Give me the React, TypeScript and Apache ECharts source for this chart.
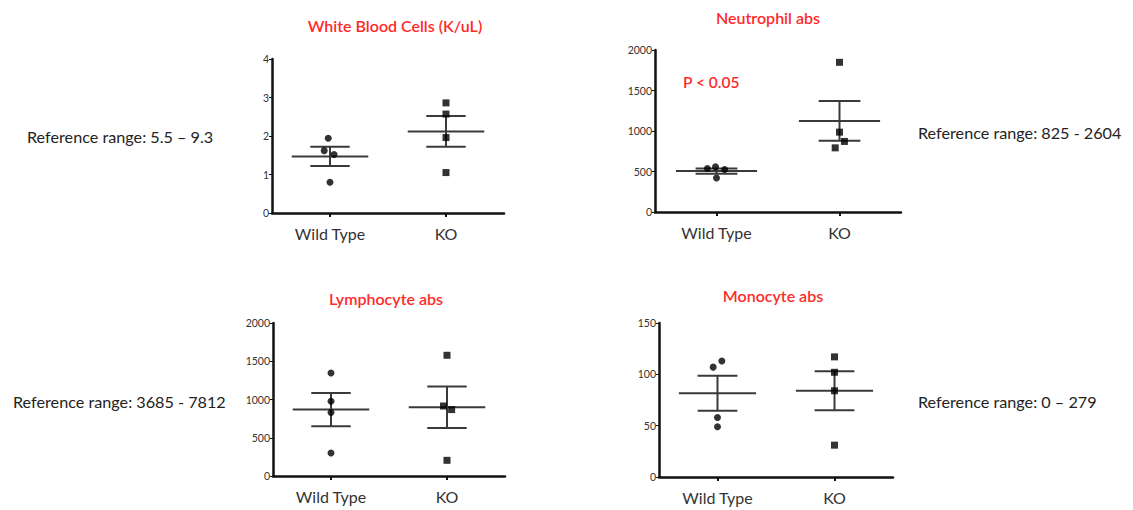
import React, { useEffect, useRef } from "react";
import * as echarts from "echarts";

const groups = ["Wild Type", "KO"];
const groupX = [1, 2];

// White Blood Cells (K/uL)
const wbcWT = [1.94, 1.62, 1.52, 0.8];
const wbcWTOffset = [-0.015, -0.05, 0.035, 0];
const wbcKO = [2.86, 2.57, 1.96, 1.05];
const wbcKOOffset = [0, 0, 0, 0];
const wbcMean = [1.47, 2.12];
const wbcSem = [0.25, 0.4];

// Neutrophil abs
const neuWT = [537, 557, 524, 420];
const neuWTOffset = [-0.074, -0.008, 0.066, 0];
const neuKO = [1848, 986, 871, 792];
const neuKOOffset = [0, 0, 0.04, -0.035];
const neuMean = [505, 1125];
const neuSem = [32, 245];

// Lymphocyte abs
const lymWT = [1346, 976, 829, 301];
const lymWTOffset = [0, 0, 0, 0];
const lymKO = [1578, 915, 868, 205];
const lymKOOffset = [0, -0.03, 0.04, 0];
const lymMean = [868, 898];
const lymSem = [218, 272];

// Monocyte abs
const monWT = [107, 113, 58, 49];
const monWTOffset = [-0.037, 0.037, 0, 0];
const monKO = [117, 102, 84, 31];
const monKOOffset = [0, 0, 0, 0];
const monMean = [81.5, 84];
const monSem = [17, 19];

const titles = ["White Blood Cells (K/uL)", "Neutrophil abs", "Lymphocyte abs", "Monocyte abs"];
const refTexts = [
  "Reference range: 5.5 \u2013 9.3",
  "Reference range: 825 - 2604",
  "Reference range: 3685 - 7812",
  "Reference range: 0 \u2013 279",
];
const yMax = [4, 2000, 2000, 150];
const yInterval = [1, 500, 500, 50];

const panels = [
  { wt: wbcWT, wto: wbcWTOffset, ko: wbcKO, koo: wbcKOOffset, mean: wbcMean, sem: wbcSem },
  { wt: neuWT, wto: neuWTOffset, ko: neuKO, koo: neuKOOffset, mean: neuMean, sem: neuSem },
  { wt: lymWT, wto: lymWTOffset, ko: lymKO, koo: lymKOOffset, mean: lymMean, sem: lymSem },
  { wt: monWT, wto: monWTOffset, ko: monKO, koo: monKOOffset, mean: monMean, sem: monSem },
];

const grids = [
  { left: 272, top: 59, width: 232, height: 154 },
  { left: 655, top: 50, width: 246, height: 162 },
  { left: 273, top: 323, width: 232, height: 153 },
  { left: 659, top: 323, width: 234, height: 154 },
];

const titlePos = [
  [395, 25],
  [768, 17],
  [386, 298],
  [773, 295],
];
const refPos = [
  [27, 136],
  [918, 132],
  [13, 401],
  [918, 401],
];

const FONT = "Lato, 'Open Sans', sans-serif";

export default function App() {
  const ref = useRef<HTMLDivElement>(null);
  useEffect(() => {
    if (!ref.current) return;
    const chart = echarts.init(ref.current, undefined, { renderer: "svg" });

    const xAxis: any[] = [];
    const yAxis: any[] = [];
    const series: any[] = [];

    panels.forEach((p, i) => {
      xAxis.push({
        gridIndex: i,
        type: "value",
        min: 0.5,
        max: 2.5,
        splitLine: { show: false },
        axisLine: { show: true, onZero: false, lineStyle: { color: "#111", width: 2.5 } },
        axisTick: { show: true, customValues: groupX, length: 4, lineStyle: { color: "#111", width: 2 } },
        axisLabel: {
          customValues: groupX,
          formatter: (v: number) => groups[Math.round(v) - 1] || "",
          color: "#333",
          fontSize: 16,
          fontFamily: FONT,
          margin: 12,
        },
      });
      yAxis.push({
        gridIndex: i,
        type: "value",
        min: 0,
        max: yMax[i],
        interval: yInterval[i],
        splitLine: { show: false },
        axisLine: { show: true, lineStyle: { color: "#111", width: 2.5 } },
        axisTick: { show: true, length: 3, lineStyle: { color: "#111", width: 1 } },
        axisLabel: {
          color: "#333",
          fontSize: 10.5,
          fontFamily: FONT,
          margin: 3,
          formatter: (v: number) => String(v),
        },
      });
      series.push({
        type: "scatter",
        xAxisIndex: i,
        yAxisIndex: i,
        symbol: "circle",
        symbolSize: 7,
        itemStyle: { color: "#000" },
        data: p.wt.map((v, k) => [groupX[0] + p.wto[k], v]),
      });
      series.push({
        type: "scatter",
        xAxisIndex: i,
        yAxisIndex: i,
        symbol: "rect",
        symbolSize: 7,
        itemStyle: { color: "#000" },
        data: p.ko.map((v, k) => [groupX[1] + p.koo[k], v]),
      });
      series.push({
        type: "custom",
        xAxisIndex: i,
        yAxisIndex: i,
        data: groupX.map((x, g) => [x, p.mean[g], p.mean[g] - p.sem[g], p.mean[g] + p.sem[g]]),
        renderItem: (params: any, api: any) => {
          const x = api.value(0);
          const m = api.value(1);
          const lo = api.value(2);
          const hi = api.value(3);
          const pm = api.coord([x, m]);
          const plo = api.coord([x, lo]);
          const phi = api.coord([x, hi]);
          const unit = api.size([1, 0])[0];
          const mw = unit * 0.33;
          const cw = unit * 0.17;
          const style = { stroke: "#3a3a3a", lineWidth: 2 };
          return {
            type: "group",
            children: [
              { type: "line", shape: { x1: pm[0] - mw, y1: pm[1], x2: pm[0] + mw, y2: pm[1] }, style },
              { type: "line", shape: { x1: plo[0], y1: plo[1], x2: phi[0], y2: phi[1] }, style },
              { type: "line", shape: { x1: plo[0] - cw, y1: plo[1], x2: plo[0] + cw, y2: plo[1] }, style },
              { type: "line", shape: { x1: phi[0] - cw, y1: phi[1], x2: phi[0] + cw, y2: phi[1] }, style },
            ],
          };
        },
        z: 1,
      });
    });

    const graphic: any[] = [];
    titles.forEach((t, i) => {
      graphic.push({
        type: "text",
        x: titlePos[i][0],
        y: titlePos[i][1],
        style: {
          text: t,
          fill: "#ff2a2a",
          font: `600 16px ${FONT}`,
          align: "center",
          verticalAlign: "middle",
        },
      });
    });
    refTexts.forEach((t, i) => {
      graphic.push({
        type: "text",
        x: refPos[i][0],
        y: refPos[i][1],
        style: {
          text: t,
          fill: "#222",
          font: `16.2px ${FONT}`,
          align: "left",
          verticalAlign: "middle",
        },
      });
    });
    graphic.push({
      type: "text",
      x: 683,
      y: 82,
      style: {
        text: "P < 0.05",
        fill: "#ff2a2a",
        font: `600 15.5px ${FONT}`,
        align: "left",
        verticalAlign: "middle",
      },
    });

    chart.setOption({
      animation: false,
      backgroundColor: "#fff",
      grid: grids.map((g) => ({ ...g, containLabel: false })),
      xAxis,
      yAxis,
      series,
      graphic,
    });
    return () => chart.dispose();
  }, []);

  return (
    <div
      ref={ref}
      style={{ position: "fixed", left: 0, top: 0, width: 1133, height: 510 }}
    />
  );
}
